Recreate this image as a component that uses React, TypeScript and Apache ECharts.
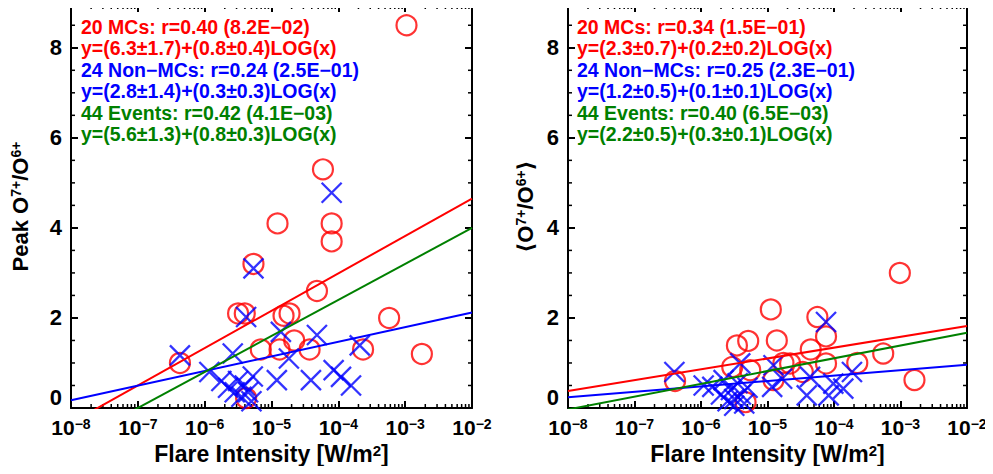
import React, { useEffect, useRef } from "react";
import * as echarts from "echarts";

// ---------- data (log10 of flare intensity, ratio) ----------
const leftMcLogFlare = [-2.98, -4.23, -4.91, -4.1, -4.1, -5.27, -5.5, -5.4, -4.32, -4.82, -4.73, -3.24, -5.16, -4.88, -4.66, -4.43, -3.63, -2.75, -6.37, -5.38];
const leftMcPeak = [8.5, 5.3, 4.1, 4.1, 3.7, 3.2, 2.1, 2.1, 2.6, 2.05, 2.1, 2.0, 1.3, 1.3, 1.5, 1.3, 1.3, 1.2, 1.0, 0.22];

const leftNonMcLogFlare = [-6.37, -5.27, -5.38, -5.58, -5.93, -4.1, -4.86, -4.32, -3.68, -4.74, -4.92, -4.41, -4.07, -3.96, -3.81, -5.75, -5.65, -5.55, -5.5, -5.45, -5.4, -5.35, -5.3, -5.28];
const leftNonMcPeak = [1.17, 3.1, 2.02, 1.21, 0.8, 4.78, 1.69, 1.62, 1.39, 1.1, 0.62, 0.62, 0.84, 0.69, 0.5, 0.6, 0.45, 0.35, 0.6, 0.25, 0.5, 0.35, 0.15, 0.7];

const rightMcLogFlare = [-6.39, -4.95, -5.46, -5.29, -4.86, -5.53, -5.26, -5.33, -4.91, -3.01, -4.25, -4.12, -4.35, -4.76, -4.66, -3.65, -3.26, -4.12, -4.47, -2.79];
const rightMcAvg = [0.6, 2.19, 1.39, 1.49, 1.5, 0.91, 0.84, 0.13, 0.62, 3.0, 2.02, 1.59, 1.3, 1.0, 0.99, 1.0, 1.21, 0.99, 0.8, 0.62];

const rightNonMcLogFlare = [-6.4, -5.96, -5.83, -5.66, -5.41, -4.91, -4.93, -4.12, -4.78, -4.36, -4.41, -4.08, -3.86, -3.73, -4.01, -5.7, -5.6, -5.55, -5.5, -5.45, -5.4, -5.35, -5.3, -5.5];
const rightNonMcAvg = [0.8, 0.5, 0.47, 0.62, 0.99, 0.95, 0.47, 1.91, 0.65, 0.69, 0.28, 0.28, 0.43, 0.8, 0.54, 0.3, 0.15, 0.4, 0.2, 0.55, 0.3, 0.1, 0.45, 0.05];

// linear fits y = a + b*log10(x): [MCs, Non-MCs, All]
const leftFitIntercepts = [6.31, 2.77, 5.6];
const leftFitSlopes = [0.83, 0.325, 0.8];
const rightFitIntercepts = [2.3, 1.2, 2.24];
const rightFitSlopes = [0.24, 0.12, 0.284];

const leftLegendLines = [
  "20 MCs: r=0.40 (8.2E\u221202)",
  "y=(6.3\u00b11.7)+(0.8\u00b10.4)LOG(x)",
  "24 Non\u2212MCs: r=0.24 (2.5E\u221201)",
  "y=(2.8\u00b11.4)+(0.3\u00b10.3)LOG(x)",
  "44 Events: r=0.42 (4.1E\u221203)",
  "y=(5.6\u00b11.3)+(0.8\u00b10.3)LOG(x)",
];
const rightLegendLines = [
  "20 MCs: r=0.34 (1.5E\u221201)",
  "y=(2.3\u00b10.7)+(0.2\u00b10.2)LOG(x)",
  "24 Non\u2212MCs: r=0.25 (2.3E\u221201)",
  "y=(1.2\u00b10.5)+(0.1\u00b10.1)LOG(x)",
  "44 Events: r=0.40 (6.5E\u221203)",
  "y=(2.2\u00b10.5)+(0.3\u00b10.1)LOG(x)",
];
const legendColors = ["#ff0000", "#ff0000", "#0000ff", "#0000ff", "#008000", "#008000"];
const fitColors = ["#ff0000", "#0000ff", "#008000"];

const xMinExp = -8;
const xMaxExp = -2;
const yMin = 0;
const yMax = 8.95;
const yMinorTicks = [0.5, 1, 1.5, 2.5, 3, 3.5, 4.5, 5, 5.5, 6.5, 7, 7.5, 8.5];
const xMinorMultipliers = [2, 3, 4, 5, 6, 7, 8, 9];

const FONT = '"Liberation Sans", Arial, Helvetica, "DejaVu Sans", sans-serif';
const CROSS = "path://M0,0L10,10M10,0L0,10";

const xMinorTicks: number[] = [];
for (let n = xMinExp; n < xMaxExp; n++) {
  xMinorMultipliers.forEach((k) => xMinorTicks.push(n + Math.log10(k)));
}

const grids = [
  { left: 71, top: 5, width: 401, height: 403 },
  { left: 568, top: 5, width: 399, height: 403 },
];

function App() {
  const ref = useRef<HTMLDivElement>(null);
  useEffect(() => {
    if (!ref.current) return;
    const chart = echarts.init(ref.current, null, { renderer: "svg" });

    const supRich = {
      t: { fontSize: 23, fontWeight: "bold", fontFamily: FONT, color: "#000" },
      s: { fontSize: 15, fontWeight: "bold", fontFamily: FONT, color: "#000", verticalAlign: "top" },
    };
    const ySupRich = {
      t: { fontSize: 22, fontWeight: "bold", fontFamily: FONT, color: "#000" },
      s: { fontSize: 14, fontWeight: "bold", fontFamily: FONT, color: "#000", verticalAlign: "top" },
    };
    const tickRich = {
      b: { fontSize: 21, fontWeight: "bold", fontFamily: FONT, color: "#000" },
      s: { fontSize: 14, fontWeight: "bold", fontFamily: FONT, color: "#000", verticalAlign: "top" },
    };

    const xAxes: any[] = [];
    const yAxes: any[] = [];
    const yNames = [
      "{t|Peak O}{s|7+}{t|/O}{s|6+}",
      "{t|\u27e8O}{s|7+}{t|/O}{s|6+}{t|\u27e9}",
    ];
    const yNameGaps = [40, 32];
    grids.forEach((_, gi) => {
      xAxes.push({
        gridIndex: gi,
        type: "value",
        position: "bottom",
        min: xMinExp,
        max: xMaxExp,
        interval: 1,
        splitLine: { show: false },
        axisLine: { show: true, onZero: false, lineStyle: { color: "#000", width: 2 } },
        axisTick: { show: true, inside: true, length: 7, lineStyle: { color: "#000", width: 2 } },
        axisLabel: {
          margin: 9,
          formatter: (v: number) => `{b|10}{s|${v < 0 ? "\u2212" : ""}${Math.abs(v)}}`,
          rich: tickRich,
        },
        name: "{t|Flare Intensity [W/m}{s|2}{t|]}",
        nameLocation: "middle",
        nameGap: 34,
        nameTextStyle: { rich: supRich },
      });
      xAxes.push({
        gridIndex: gi,
        type: "value",
        position: "top",
        min: xMinExp,
        max: xMaxExp,
        interval: 1,
        splitLine: { show: false },
        axisLine: { show: true, onZero: false, lineStyle: { color: "#000", width: 2 } },
        axisTick: { show: true, inside: true, length: 7, lineStyle: { color: "#000", width: 2 } },
        axisLabel: { show: false },
      });
      yAxes.push({
        gridIndex: gi,
        type: "value",
        position: "left",
        min: yMin,
        max: yMax,
        interval: 2,
        splitLine: { show: false },
        axisLine: { show: true, onZero: false, lineStyle: { color: "#000", width: 2 } },
        axisTick: { show: true, inside: true, length: 7, lineStyle: { color: "#000", width: 2 } },
        axisLabel: {
          margin: 9,
          fontSize: 22,
          fontWeight: "bold",
          fontFamily: FONT,
          color: "#000",
          verticalAlignMinLabel: "bottom",
          formatter: (v: number) => (Math.abs(v % 2) < 1e-9 ? String(v) : ""),
        },
        name: yNames[gi],
        nameLocation: "middle",
        nameGap: yNameGaps[gi],
        nameRotate: 90,
        nameTextStyle: { rich: ySupRich },
      });
      yAxes.push({
        gridIndex: gi,
        type: "value",
        position: "right",
        min: yMin,
        max: yMax,
        interval: 2,
        splitLine: { show: false },
        axisLine: { show: true, onZero: false, lineStyle: { color: "#000", width: 2 } },
        axisTick: { show: true, inside: true, length: 7, lineStyle: { color: "#000", width: 2 } },
        axisLabel: { show: false },
      });
    });

    const series: any[] = [];
    const panels = [
      {
        mcX: leftMcLogFlare, mcY: leftMcPeak, nX: leftNonMcLogFlare, nY: leftNonMcPeak,
        a: leftFitIntercepts, b: leftFitSlopes,
      },
      {
        mcX: rightMcLogFlare, mcY: rightMcAvg, nX: rightNonMcLogFlare, nY: rightNonMcAvg,
        a: rightFitIntercepts, b: rightFitSlopes,
      },
    ];
    panels.forEach((p, gi) => {
      const xi = gi * 2;
      const yi = gi * 2;
      // minor ticks
      series.push({
        type: "custom",
        xAxisIndex: xi,
        yAxisIndex: yi,
        clip: false,
        silent: true,
        data: xMinorTicks.map((v) => [v, 0]),
        renderItem: (params: any, api: any) => {
          const v = api.value(0);
          const b = api.coord([v, yMin]);
          const t = api.coord([v, yMax]);
          const st = { stroke: "#000", lineWidth: 1.5 };
          return {
            type: "group",
            children: [
              { type: "line", shape: { x1: b[0], y1: b[1], x2: b[0], y2: b[1] - 4 }, style: st },
              { type: "line", shape: { x1: t[0], y1: t[1], x2: t[0], y2: t[1] + 4 }, style: st },
            ],
          };
        },
      });
      series.push({
        type: "custom",
        xAxisIndex: xi,
        yAxisIndex: yi,
        clip: false,
        silent: true,
        data: yMinorTicks.map((v) => [xMinExp, v]),
        renderItem: (params: any, api: any) => {
          const v = api.value(1);
          const l = api.coord([xMinExp, v]);
          const r = api.coord([xMaxExp, v]);
          const st = { stroke: "#000", lineWidth: 1.5 };
          return {
            type: "group",
            children: [
              { type: "line", shape: { x1: l[0], y1: l[1], x2: l[0] + 4, y2: l[1] }, style: st },
              { type: "line", shape: { x1: r[0], y1: r[1], x2: r[0] - 4, y2: r[1] }, style: st },
            ],
          };
        },
      });
      series.push({
        type: "scatter",
        xAxisIndex: xi,
        yAxisIndex: yi,
        symbol: "circle",
        symbolSize: 20,
        itemStyle: { color: "transparent", borderColor: "#ff0000", borderWidth: 2.2 },
        data: p.mcX.map((x, i) => [x, p.mcY[i]]),
      });
      series.push({
        type: "scatter",
        xAxisIndex: xi,
        yAxisIndex: yi,
        symbol: CROSS,
        symbolSize: 20,
        itemStyle: { color: "transparent", borderColor: "#0000ff", borderWidth: 2.3 },
        data: p.nX.map((x, i) => [x, p.nY[i]]),
      });
      p.a.forEach((a, k) => {
        series.push({
          type: "line",
          xAxisIndex: xi,
          yAxisIndex: yi,
          showSymbol: false,
          symbol: "none",
          clip: true,
          lineStyle: { color: fitColors[k], width: 2 },
          data: [xMinExp, xMaxExp].map((x) => [x, a + p.b[k] * x]),
        });
      });
    });

    const graphics: any[] = [];
    [leftLegendLines, rightLegendLines].forEach((lines, gi) => {
      const x0 = gi === 0 ? 81 : 577;
      lines.forEach((txt, i) => {
        graphics.push({
          type: "text",
          x: x0,
          y: 26.7 + i * 21.5,
          silent: true,
          style: {
            text: txt,
            fill: legendColors[i],
            fontSize: 19.5,
            fontWeight: "bold",
            fontFamily: FONT,
            verticalAlign: "middle",
            align: "left",
          },
        });
      });
    });

    chart.setOption({
      animation: false,
      backgroundColor: "#fff",
      grid: grids.map((g) => ({ ...g, containLabel: false })),
      xAxis: xAxes,
      yAxis: yAxes,
      series,
      graphic: graphics,
    });
    return () => chart.dispose();
  }, []);
  return <div ref={ref} style={{ width: 993, height: 474, margin: -8 }} />;
}

export default App;
